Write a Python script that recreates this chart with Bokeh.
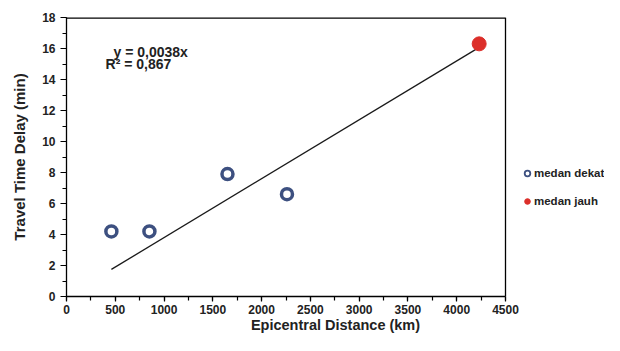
from bokeh.plotting import figure
from bokeh.models import Range1d, Legend, LegendItem, SingleIntervalTicker, Label
from bokeh.embed import file_html
from bokeh.resources import INLINE

# data
near_x = [460, 850, 1650, 2260]
near_y = [4.2, 4.2, 7.9, 6.6]
far_x = [4230]
far_y = [16.3]
slope = 0.0038
trend_x = [460, 4230]
trend_y = [slope * v for v in trend_x]
eq_text = "y = 0,0038x"
r2_text = "R\u00b2 = 0,867"
legend_labels = ["medan dekat", "medan jauh"]
x_max = 4500
y_max = 18

FONT = "Liberation Sans"
TXT = "#222222"
BLUE = "#3d5080"
RED = "#dc2f2a"

# frame: left 66, top 17, right border of axes box at 505, bottom 297
W, H = 604, 335
left, top, bottom = 66, 17, 297
box_right = 505
px_per_km = (box_right - left) / x_max
x_end = (W - left) / px_per_km

p = figure(width=W, height=H, output_backend="svg", toolbar_location=None,
           x_range=Range1d(0, x_end), y_range=Range1d(0, y_max),
           min_border_left=left, min_border_top=top, min_border_bottom=H - bottom,
           min_border_right=0)
p.background_fill_color = "white"
p.border_fill_color = "white"
p.grid.visible = False
p.outline_line_color = None

p.xaxis.ticker = SingleIntervalTicker(interval=500, num_minor_ticks=2)
p.yaxis.ticker = SingleIntervalTicker(interval=2, num_minor_ticks=2)
p.xaxis.bounds = (0, x_max)
for ax in (p.xaxis[0], p.yaxis[0]):
    ax.axis_line_color = "black"
    ax.axis_line_width = 1.3
    ax.major_tick_line_color = "black"
    ax.minor_tick_line_color = "black"
    ax.major_tick_line_width = 1.2
    ax.minor_tick_line_width = 1.2
    ax.major_tick_in = 0
    ax.minor_tick_in = 0
    ax.major_label_text_font = FONT
    ax.major_label_text_font_size = "12px"
    ax.major_label_text_font_style = "bold"
    ax.major_label_text_color = TXT
    ax.axis_label_text_font = FONT
    ax.axis_label_text_font_style = "bold"
    ax.axis_label_text_color = TXT
p.xaxis.major_tick_out = 5
p.xaxis.minor_tick_out = 4
p.yaxis.major_tick_out = 6
p.yaxis.minor_tick_out = 4
p.xaxis.major_label_standoff = 3
p.yaxis.major_label_standoff = 5
p.xaxis.axis_label = "Epicentral Distance (km)"
p.xaxis.axis_label_text_font_size = "14.5px"
p.xaxis.axis_label_standoff = 0
p.yaxis.axis_label = "Travel Time Delay (min)"
p.yaxis.axis_label_text_font_size = "15px"
p.yaxis.axis_label_standoff = 11

# box top and right border
p.segment(x0=[0, x_max], y0=[y_max, 0], x1=[x_max, x_max], y1=[y_max, y_max],
          line_color="black", line_width=[2.6, 1.3])

p.line(trend_x, trend_y, line_color="#1a1a1a", line_width=1.3)

# small legend-key renderers, drawn underneath the real markers (hidden by them)
leg_near = p.scatter(near_x, near_y, size=6, fill_color="white", line_color=BLUE, line_width=1.8)
leg_far = p.scatter(far_x, far_y, size=6, fill_color=RED, line_color=RED, line_width=1)

p.scatter(near_x, near_y, size=11, fill_color="white", line_color=BLUE, line_width=3.5)
p.scatter(far_x, far_y, size=14, fill_color=RED, line_color=RED, line_width=1)

p.add_layout(Label(x=482, y=15.75, text=eq_text, text_font=FONT, text_font_size="14px",
                   text_font_style="bold", text_color=TXT, text_baseline="middle"))
p.add_layout(Label(x=400, y=15.0, text=r2_text, text_font=FONT, text_font_size="14px",
                   text_font_style="bold", text_color=TXT, text_baseline="middle"))

legend = Legend(items=[LegendItem(label=legend_labels[0], renderers=[leg_near]),
                       LegendItem(label=legend_labels[1], renderers=[leg_far])],
                location=(454, 85), border_line_color=None, background_fill_alpha=0,
                label_text_font=FONT, label_text_font_size="11.5px", label_text_font_style="bold",
                label_text_color=TXT, glyph_width=14, glyph_height=20, spacing=8,
                label_standoff=-2, padding=0, margin=0, label_height=20)
p.add_layout(legend, "center")

open("out.html", "w").write(file_html(p, INLINE))
